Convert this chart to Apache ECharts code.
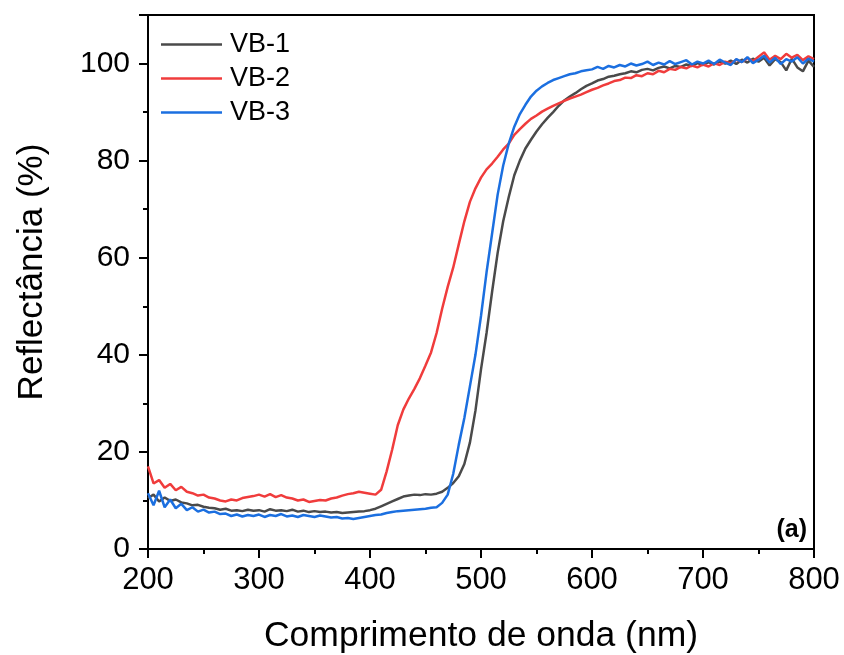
<!DOCTYPE html>
<html>
<head>
<meta charset="utf-8">
<script src="https://cdn.jsdelivr.net/npm/echarts@6/dist/echarts.min.js"></script>
<style>html,body{margin:0;padding:0;background:#fff}#c{width:844px;height:655px}</style>
</head>
<body>
<div id="c"></div>
<script>
const wavelength = [
 200,205,210,215,220,225,230,235,240,245,
 250,255,260,265,270,275,280,285,290,295,
 300,305,310,315,320,325,330,335,340,345,
 350,355,360,365,370,375,380,385,390,395,
 400,405,410,415,420,425,430,435,440,445,
 450,455,460,465,470,475,480,485,490,495,
 500,505,510,515,520,525,530,535,540,545,
 550,555,560,565,570,575,580,585,590,595,
 600,605,610,615,620,625,630,635,640,645,
 650,655,660,665,670,675,680,685,690,695,
 700,705,710,715,720,725,730,735,740,745,
 750,755,760,765,770,775,780,785,790,795,
 800];
const vb1 = [
 10.5,11.2,9.8,10.6,9.9,10.2,9.6,9.4,9.0,9.1,
 8.7,8.5,8.4,8.1,8.3,7.9,8.0,7.8,8.1,7.9,
 8.0,7.7,8.2,7.9,8.0,7.8,8.1,7.7,7.9,7.6,
 7.8,7.6,7.7,7.5,7.6,7.4,7.5,7.6,7.7,7.8,
 8.0,8.3,8.8,9.3,9.8,10.3,10.8,11.0,11.2,11.1,
 11.3,11.2,11.4,11.8,12.6,13.6,15.0,17.5,21.9,28.5,
 37.0,44.5,53.0,61.0,67.5,72.5,77.0,80.0,82.5,84.3,
 86.0,87.5,88.8,90.0,91.3,92.4,93.2,93.9,94.7,95.4,
 95.9,96.5,96.8,97.3,97.5,97.8,98.0,98.4,98.2,98.7,
 98.9,98.6,99.1,99.4,99.0,99.5,99.3,99.8,99.5,100.1,
 99.7,100.3,99.8,100.4,100.0,100.6,99.9,100.8,100.2,101.0,
 100.4,101.2,99.6,100.9,100.3,98.6,101.0,99.2,98.4,100.6,
 99.3];
const vb2 = [
 17.0,13.5,14.2,12.6,13.4,12.1,12.8,11.8,11.5,11.0,
 11.2,10.6,10.4,10.0,9.8,10.2,10.0,10.5,10.7,10.9,
 11.2,10.8,11.3,10.7,11.1,10.6,10.4,10.0,10.2,9.7,
 9.9,10.1,10.0,10.4,10.6,11.0,11.3,11.5,11.8,11.6,
 11.4,11.2,12.2,16.0,20.5,25.5,28.7,31.0,33.0,35.2,
 37.8,40.5,44.5,49.5,54.0,58.0,62.8,67.5,71.5,74.3,
 76.5,78.2,79.4,80.8,82.3,83.5,85.3,86.5,87.6,88.6,
 89.3,90.1,90.7,91.3,91.8,92.3,92.8,93.2,93.6,94.1,
 94.6,95.0,95.5,95.9,96.4,96.6,97.1,97.0,97.6,97.4,
 98.0,97.8,98.5,98.2,98.9,98.7,99.3,99.0,99.6,99.2,
 99.8,99.4,100.1,99.7,100.4,100.0,100.8,100.3,101.1,100.5,
 101.4,102.3,100.8,101.6,100.9,102.0,101.2,101.8,100.7,101.5,
 100.9];
const vb3 = [
 11.5,9.0,12.0,8.6,10.2,8.4,9.3,8.0,8.6,7.7,
 8.1,7.5,7.7,7.2,7.3,6.8,7.1,6.7,7.0,6.8,
 7.1,6.6,7.0,6.8,7.2,6.7,6.9,6.6,7.0,6.8,
 6.6,6.9,6.7,6.5,6.6,6.3,6.4,6.2,6.4,6.6,
 6.8,7.0,7.1,7.4,7.6,7.8,7.9,8.0,8.1,8.2,
 8.3,8.5,8.6,9.5,11.2,15.5,21.5,27.0,33.5,40.0,
 48.0,57.0,65.0,73.0,79.0,83.5,87.0,89.6,91.5,93.2,
 94.4,95.3,96.0,96.6,97.0,97.4,97.8,98.0,98.4,98.6,
 98.8,99.3,98.9,99.5,99.2,99.7,99.4,100.0,99.6,99.9,
 100.4,99.7,100.2,99.8,100.5,99.9,100.3,100.7,99.8,100.4,
 100.0,100.6,99.9,100.8,100.2,99.7,100.9,100.3,101.3,100.1,
 100.8,101.6,100.2,101.2,99.9,100.9,100.4,101.3,100.0,101.0,
 100.4];
const seriesNames = ['VB-1','VB-2','VB-3'];
const seriesColors = ['#4a4a4a','#f03c3c','#1b6fe0'];
const xTitle = 'Comprimento de onda (nm)';
const yTitle = 'Reflectância (%)';
const panelLabel = '(a)';

const FONT = '"Liberation Sans", Arial, Helvetica, sans-serif';
const pairs = arr => wavelength.map((w, i) => [w, arr[i]]);
const allData = [vb1, vb2, vb3];

const chart = echarts.init(document.getElementById('c'), null, {renderer: 'canvas'});
chart.setOption({
  animation: false,
  backgroundColor: '#fff',
  grid: {left: 148, right: 30, top: 15, bottom: 106, containLabel: false, outerBoundsMode: 'none',
         show: true, borderColor: '#000', borderWidth: 2, backgroundColor: 'transparent'},
  legend: {
    orient: 'vertical', left: 156, top: 26,
    icon: 'rect',
    itemWidth: 61, itemHeight: 2.5, itemGap: 7,
    textStyle: {fontFamily: FONT, fontSize: 27, color: '#000', lineHeight: 20, padding: [0, 0, 0, 3]},
    data: seriesNames
  },
  xAxis: {
    type: 'value', min: 200, max: 800, interval: 100,
    axisLine: {show: true, onZero: false, lineStyle: {color: '#000', width: 2}},
    axisTick: {show: true, inside: false, length: 9, lineStyle: {color: '#000', width: 2}},
    minorTick: {show: true, splitNumber: 2, length: 5, lineStyle: {color: '#000', width: 2}},
    splitLine: {show: false},
    axisLabel: {fontFamily: FONT, fontSize: 31, color: '#000', margin: 16},
    name: xTitle, nameLocation: 'middle', nameGap: 69,
    nameTextStyle: {fontFamily: FONT, fontSize: 35.5, color: '#000'}
  },
  yAxis: {
    type: 'value', min: 0, max: 110, interval: 20,
    axisLine: {show: true, onZero: false, lineStyle: {color: '#000', width: 2}},
    axisTick: {show: true, inside: false, length: 9, lineStyle: {color: '#000', width: 2}},
    minorTick: {show: true, splitNumber: 2, length: 5, lineStyle: {color: '#000', width: 2}},
    splitLine: {show: false},
    axisLabel: {fontFamily: FONT, fontSize: 30, color: '#000', margin: 18,
      formatter: v => (v > 100 ? '' : String(v))}
  },
  graphic: [
    {type: 'text', x: 32, y: 272, rotation: Math.PI / 2,
     style: {text: yTitle, font: '35px ' + FONT, fill: '#000', textAlign: 'center', textVerticalAlign: 'middle'}},
    {type: 'text', x: 807, y: 530,
     style: {text: panelLabel, font: 'bold 25px ' + FONT, fill: '#000', textAlign: 'right', textVerticalAlign: 'middle'}}
  ],
  series: seriesNames.map((n, i) => ({
    name: n, type: 'line', data: pairs(allData[i]), showSymbol: false, symbol: 'none',
    lineStyle: {color: seriesColors[i], width: 2.5}, itemStyle: {color: seriesColors[i]},
    z: 2 + i
  }))
});
</script>
</body>
</html>
